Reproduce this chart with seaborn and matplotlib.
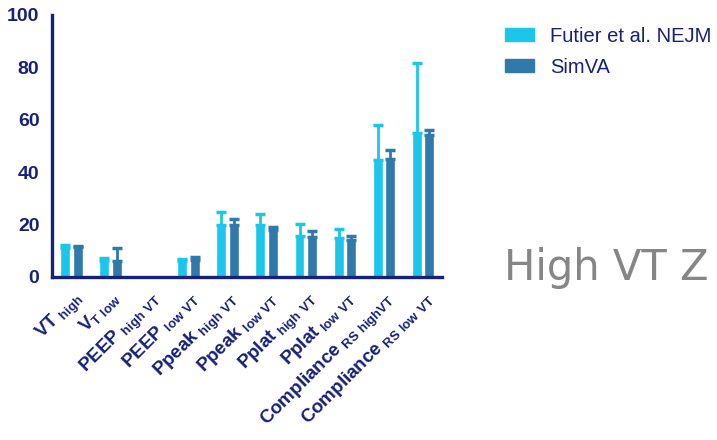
import numpy as np
import pandas as pd
import matplotlib
matplotlib.use("Agg")
import matplotlib.pyplot as plt
import seaborn as sns

# ---- data ----
params = ["VT high", "VT low", "PEEP high VT", "PEEP low VT", "Ppeak high VT",
          "Ppeak low VT", "Pplat high VT", "Pplat low VT",
          "Compliance RS high VT", "Compliance RS low VT"]
tick_labels = [
    r"$\mathbf{VT}_{\mathbf{\ high}}$",
    r"$\mathbf{V}_{\mathbf{T\ low}}$",
    r"$\mathbf{PEEP}_{\mathbf{\ high\ VT}}$",
    r"$\mathbf{PEEP}_{\mathbf{\ low\ VT}}$",
    r"$\mathbf{Ppeak}_{\mathbf{\ high\ VT}}$",
    r"$\mathbf{Ppeak}_{\mathbf{\ low\ VT}}$",
    r"$\mathbf{Pplat}_{\mathbf{\ high\ VT}}$",
    r"$\mathbf{Pplat}_{\mathbf{\ low\ VT}}$",
    r"$\mathbf{Compliance}_{\mathbf{\ RS\ highVT}}$",
    r"$\mathbf{Compliance}_{\mathbf{\ RS\ low\ VT}}$",
]
futier_mean = [11.0, 6.0, 0.0, 6.0, 19.8, 19.8, 15.8, 14.8, 44.7, 54.8]
futier_err = [1.2, 1.1, 0.0, 1.0, 5.0, 4.2, 4.4, 3.4, 13.3, 27.0]
simva_mean = [11.5, 6.0, 0.0, 6.5, 20.0, 18.0, 15.2, 14.1, 45.2, 54.2]
simva_err = [0.5, 5.0, 0.0, 1.3, 2.0, 1.2, 2.5, 1.5, 3.3, 1.9]
series = ["Futier et al. NEJM", "SimVA"]
colors = ["#1cc6ea", "#2f7aab"]
navy = "#16217c"

df = pd.DataFrame({
    "param": params * 2,
    "value": futier_mean + simva_mean,
    "err": futier_err + simva_err,
    "source": [series[0]] * len(params) + [series[1]] * len(params),
})

sns.set_theme(style="white")
plt.rcParams["font.family"] = ["Liberation Sans", "DejaVu Sans"]
plt.rcParams["mathtext.fontset"] = "custom"
plt.rcParams["mathtext.bf"] = "Liberation Sans:bold"
plt.rcParams["mathtext.rm"] = "Liberation Sans"

fig = plt.figure(figsize=(7.17, 4.40), dpi=100)
ax = fig.add_axes([0.0725, 0.3705, 0.5445, 0.5955])

sns.barplot(data=df, x="param", y="value", hue="source", order=params,
            hue_order=series, palette=colors, width=0.64, gap=0.2,
            saturation=1, errorbar=None, ax=ax)

# error bars (upper only) placed on bar centres
for i, (s, c) in enumerate(zip(series, colors)):
    container = ax.containers[i]
    xs = [p.get_x() + p.get_width() / 2 for p in container.patches]
    sub = df[df["source"] == s]
    ys = sub["value"].to_numpy()
    es = sub["err"].to_numpy()
    mask = ys > 0
    ax.errorbar(np.array(xs)[mask], ys[mask],
                yerr=[np.zeros(mask.sum()), es[mask]],
                fmt="none", ecolor=c, elinewidth=2, capsize=3.5, capthick=2.5)

ax.set_ylim(0, 100)
ax.set_xlim(-0.5, len(params) - 0.5)
ax.set_yticks([0, 20, 40, 60, 80, 100])
ax.set_xlabel("")
ax.set_ylabel("")

for side in ["top", "right"]:
    ax.spines[side].set_visible(False)
for side in ["left", "bottom"]:
    ax.spines[side].set_color(navy)
    ax.spines[side].set_linewidth(2.4)

ax.tick_params(axis="both", which="major", direction="out", colors=navy,
               width=2.4, length=6, labelsize=14)
ax.tick_params(axis="y", length=8, pad=1)
ax.tick_params(axis="x", length=7, pad=1)
for t in ax.get_yticklabels():
    t.set_fontweight("bold")
    t.set_color(navy)
ax.set_xticks(range(len(params)))
ax.set_xticklabels(tick_labels, rotation=45, ha="right",
                   rotation_mode="anchor", fontsize=13.5, color=navy)

leg = ax.get_legend()
if leg is not None:
    leg.remove()
handles = [plt.Rectangle((0, 0), 1, 1, color=c) for c in colors]
fig.legend(handles, series, loc="upper left", bbox_to_anchor=(0.693, 0.957),
           frameon=False, fontsize=14.5, handlelength=1.45, handleheight=0.62,
           handletextpad=0.8, labelspacing=0.6, labelcolor=navy,
           borderaxespad=0)

fig.text(0.703, 0.364, "High VT Z", fontsize=30, color="#868686",
         family=["DejaVu Sans"], ha="left", va="baseline")

fig.savefig("out.png", dpi=100, facecolor="white")
